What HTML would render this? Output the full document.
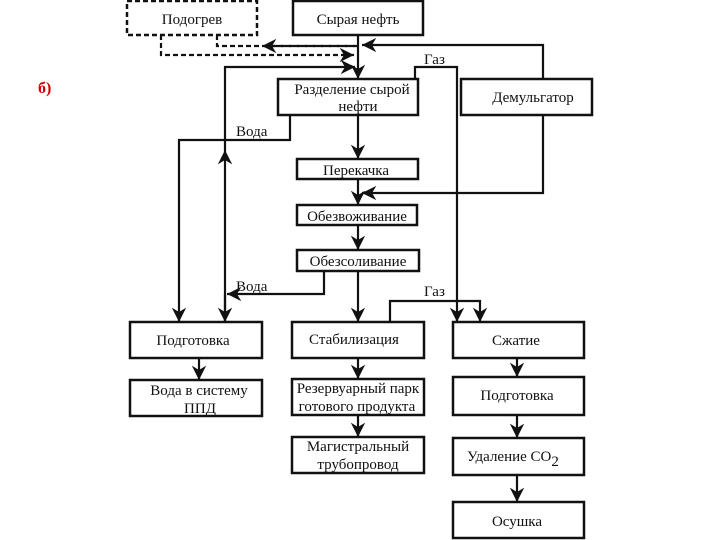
<!DOCTYPE html>
<html><head><meta charset="utf-8"><style>
body{margin:0;background:#fff;}
svg{display:block;}
text{font-family:"Liberation Serif",serif;font-size:15px;fill:#111;}
</style></head><body>
<svg width="720" height="540" viewBox="0 0 720 540" xmlns="http://www.w3.org/2000/svg">
<defs>
<marker id="a" viewBox="0 0 10 10" refX="10" refY="5" markerWidth="6.5" markerHeight="6.5" orient="auto"><path d="M0,0 L10,5 L0,10 L3,5 z" fill="#111"/></marker>
</defs>
<text x="38" y="93" style="font-size:16px;font-weight:bold;fill:#c00">б)</text>
<g fill="none" stroke="#111" stroke-width="2.5">
<rect x="127" y="1" width="130" height="34" stroke-dasharray="5,3"/>
<rect x="293" y="1" width="130" height="34"/>
<rect x="278" y="79" width="140" height="36"/>
<rect x="461" y="79" width="131" height="36"/>
<rect x="297" y="159" width="121" height="20"/>
<rect x="297" y="205" width="120" height="20"/>
<rect x="297" y="250" width="122" height="21"/>
<rect x="130" y="322" width="132" height="36"/>
<rect x="130" y="380" width="132" height="36"/>
<rect x="292" y="322" width="132" height="36"/>
<rect x="292" y="379" width="132" height="36"/>
<rect x="292" y="437" width="132" height="36"/>
<rect x="453" y="322" width="131" height="36"/>
<rect x="453" y="377" width="131" height="38"/>
<rect x="453" y="438" width="131" height="37"/>
<rect x="453" y="502" width="131" height="36"/>
</g>
<g fill="none" stroke="#111" stroke-width="2.2" stroke-dasharray="5,3">
<path d="M217 35 V46 H358"/>
<path d="M358 46 H262" marker-end="url(#a)"/>
<path d="M161 35 V55 H354" marker-end="url(#a)"/>
</g>
<g fill="none" stroke="#111" stroke-width="2.2">
<path d="M358 35 V79" marker-end="url(#a)"/>
<path d="M543 79 V45 H362" marker-end="url(#a)"/>
<path d="M543 115 V193 H362" marker-end="url(#a)"/>
<path d="M415 79 V67 H457 V322" marker-end="url(#a)"/>
<path d="M290 115 V140 H179 V322" marker-end="url(#a)"/>
<path d="M225 322 V150" marker-end="url(#a)"/>
<path d="M225 150 V67 H355" marker-end="url(#a)"/>
<path d="M358 115 V159" marker-end="url(#a)"/>
<path d="M358 179 V205" marker-end="url(#a)"/>
<path d="M358 225 V250" marker-end="url(#a)"/>
<path d="M358 271 V322" marker-end="url(#a)"/>
<path d="M324 271 V294 H227" marker-end="url(#a)"/>
<path d="M225 294 V322" marker-end="url(#a)"/>
<path d="M390 322 V301 H480 V322" marker-end="url(#a)"/>
<path d="M199 358 V380" marker-end="url(#a)"/>
<path d="M358 358 V379" marker-end="url(#a)"/>
<path d="M358 415 V437" marker-end="url(#a)"/>
<path d="M517 358 V377" marker-end="url(#a)"/>
<path d="M517 415 V438" marker-end="url(#a)"/>
<path d="M517 475 V502" marker-end="url(#a)"/>
</g>
<text x="192" y="24" text-anchor="middle">Подогрев</text>
<text x="358" y="24" text-anchor="middle">Сырая нефть</text>
<text x="352" y="94" text-anchor="middle">Разделение сырой</text>
<text x="358" y="111" text-anchor="middle">нефти</text>
<text x="533" y="102" text-anchor="middle">Демульгатор</text>
<text x="356" y="175" text-anchor="middle">Перекачка</text>
<text x="357" y="221" text-anchor="middle">Обезвоживание</text>
<text x="358" y="266" text-anchor="middle">Обезсоливание</text>
<text x="424" y="64">Газ</text>
<text x="236" y="136">Вода</text>
<text x="236" y="291">Вода</text>
<text x="424" y="296">Газ</text>
<text x="193" y="345" text-anchor="middle">Подготовка</text>
<text x="199" y="395" text-anchor="middle">Вода в систему</text>
<text x="200" y="413" text-anchor="middle">ППД</text>
<text x="354" y="344" text-anchor="middle">Стабилизация</text>
<text x="358" y="393" text-anchor="middle">Резервуарный парк</text>
<text x="357" y="411" text-anchor="middle">готового продукта</text>
<text x="358" y="451" text-anchor="middle">Магистральный</text>
<text x="358" y="469" text-anchor="middle">трубопровод</text>
<text x="516" y="345" text-anchor="middle">Сжатие</text>
<text x="517" y="400" text-anchor="middle">Подготовка</text>
<text x="467" y="461">Удаление СО<tspan dy="5">2</tspan></text>
<text x="517" y="526" text-anchor="middle">Осушка</text>
</svg>
</body></html>
